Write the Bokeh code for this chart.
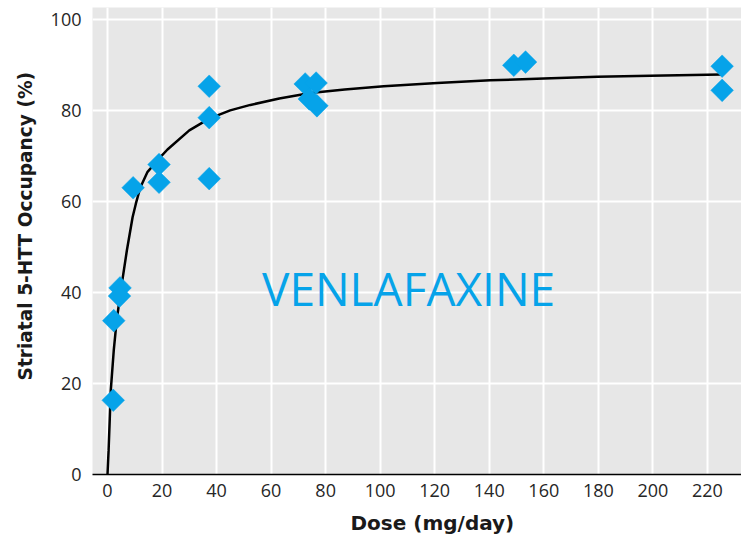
import math
from bokeh.plotting import figure
from bokeh.models import Range1d, FixedTicker, Label, ColumnDataSource, Title
from bokeh.embed import file_html
from bokeh.resources import INLINE

# Observed data points (dose mg/day, striatal 5-HTT occupancy %)
dose = [2.1, 2.3, 4.6, 4.4, 9.4, 18.9, 18.9, 37.3, 37.3, 37.3,
        72.5, 76.5, 74.0, 76.8, 149.0, 153.3, 225.4, 225.4]
occupancy = [16.3, 33.8, 41.0, 39.2, 63.0, 68.1, 64.2, 85.3, 78.4, 65.0,
             85.8, 86.0, 82.5, 81.0, 89.9, 90.6, 89.7, 84.4]

# Fitted curve
curve_dose = [0, 0.4, 0.85, 1.2, 2.3, 3.4, 4.9, 7.1, 9.2, 10.4, 12, 14.7, 19.2, 22,
              30, 37.3, 45, 52.4, 63, 74.4, 87, 101.3, 120.9, 140.4, 160, 179.6, 199, 225]
curve_occ = [0, 5.3, 12.6, 18.5, 27.3, 34, 40.5, 49.2, 56.5, 59.5, 63.0, 66.5, 69.6, 71.4,
             75.6, 78.2, 80.0, 81.2, 82.6, 83.8, 84.6, 85.3, 86.0, 86.6, 87.0, 87.4, 87.6, 87.9]

x_ticks = [0, 20, 40, 60, 80, 100, 120, 140, 160, 180, 200, 220]
y_ticks = [0, 20, 40, 60, 80, 100]

BLUE = "#06a3e9"
FONT = "Open Sans"
TITLE_FONT = "DejaVu Sans"

p = figure(width=741, height=543, output_backend="svg", toolbar_location=None,
           x_range=Range1d(-5.5, 232.5), y_range=Range1d(0, 102.6),
           min_border_left=92, min_border_right=0, min_border_top=7, min_border_bottom=69)

p.background_fill_color = "#e7e7e7"
p.border_fill_color = "white"
p.outline_line_color = None

p.xgrid.ticker = FixedTicker(ticks=x_ticks)
p.ygrid.ticker = FixedTicker(ticks=y_ticks)
for g in (p.xgrid, p.ygrid):
    g.grid_line_color = "white"
    g.grid_line_width = 2

p.xaxis.ticker = FixedTicker(ticks=x_ticks)
p.yaxis.ticker = FixedTicker(ticks=y_ticks)
for ax in (p.xaxis, p.yaxis):
    ax.major_tick_line_color = None
    ax.minor_tick_line_color = None
    ax.major_tick_out = 0
    ax.major_tick_in = 0
    ax.major_label_text_font = FONT
    ax.major_label_text_font_size = "18px"
    ax.major_label_text_color = "#262626"
p.xaxis.axis_line_color = "black"
p.xaxis.axis_line_width = 1.5
p.xaxis.major_label_standoff = 9
p.yaxis.axis_line_color = None
p.yaxis.major_label_standoff = 11

src = ColumnDataSource(dict(x=dose, y=occupancy))
csrc = ColumnDataSource(dict(x=curve_dose, y=curve_occ))

p.line("x", "y", source=csrc, line_color="black", line_width=2.5)
p.scatter("x", "y", source=src, marker="square", size=16, angle=math.pi / 4,
          fill_color=BLUE, line_color=BLUE, line_width=0.5)

p.add_layout(Label(x=110.4, y=41.0, text="VENLAFAXINE", text_align="center",
                   text_baseline="alphabetic", text_font=FONT, text_font_size="46px",
                   text_color=BLUE))

p.add_layout(Title(text="Dose (mg/day)", align="left", offset=258, standoff=18,
                   text_font=TITLE_FONT, text_font_size="20px", text_font_style="bold",
                   text_color="#1a1a1a"), "below")

p.add_layout(Title(text="Striatal 5-HTT Occupancy (%)", align="left", offset=94, standoff=24,
                   text_font=TITLE_FONT, text_font_size="18.6px", text_font_style="bold",
                   text_color="#1a1a1a"), "left")

open("out.html", "w").write(file_html(p, INLINE))
